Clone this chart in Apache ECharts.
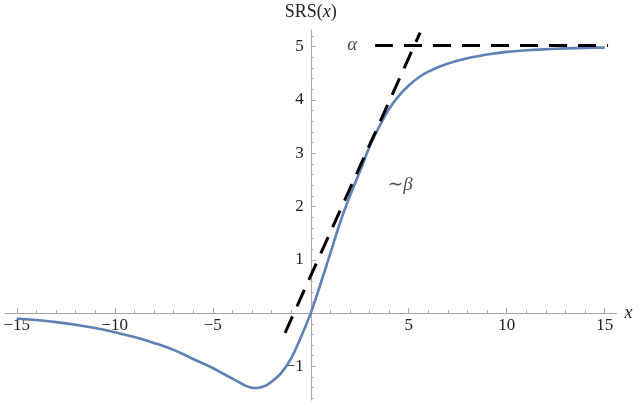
<!DOCTYPE html>
<html>
<head>
<meta charset="utf-8">
<script src="https://cdn.jsdelivr.net/npm/echarts@6/dist/echarts.min.js"></script>
<style>
  html, body { margin: 0; padding: 0; background: #fff; }
  #chart { width: 640px; height: 408px; }
</style>
</head>
<body>
<div id="chart"></div>
<script>
// curve SRS(x)
var xs = [-15, -14, -13, -12, -11, -10, -9, -8, -7, -6, -5, -4.5, -4, -3.5, -3.25, -3, -2.75, -2.5, -2.25, -2, -1.5, -1, -0.5,
          0, 0.5, 1, 1.5, 2, 2.5, 3, 3.5, 4, 4.5, 5, 5.5, 6, 7, 8, 9, 10, 11, 12, 13, 14, 15];
var ys = [-0.10, -0.13, -0.17, -0.22, -0.28, -0.36, -0.45, -0.56, -0.69, -0.86, -1.03, -1.13, -1.23, -1.33, -1.375, -1.40, -1.405, -1.385, -1.35, -1.29, -1.12, -0.85, -0.45,
          0, 0.55, 1.12, 1.7, 2.2, 2.65, 3.12, 3.5, 3.83, 4.08, 4.27, 4.42, 4.53, 4.68, 4.78, 4.85, 4.9, 4.93, 4.95, 4.965, 4.975, 4.98];

// dashed guides
var alphaLine = [[3.28, 5.02], [15.17, 5.02]];
var betaLine = [[-1.31, -0.37], [5.58, 5.26]];

// annotations
var notes = [[2.12, 5.03, 'α'], [4.56, 2.41, '∼β']];

// tick labels
var xLabels = [-15, -10, -5, 5, 10, 15];
var yLabels = [-1, 1, 2, 3, 4, 5];

var serif = '"Liberation Serif", "DejaVu Serif", serif';
var axisColor = '#a6a6a6';

var xMin = -15.6, xMax = 15.6, yMin = -1.63, yMax = 5.31;
var gLeft = 5, gWidth = 611.5, gTop = 30, gHeight = 370;
// move the axes onto the origin (labels follow the lines)
var xOff = -gHeight * (0 - yMin) / (yMax - yMin);
var yOff = -gWidth * (0 - xMin) / (xMax - xMin);

var xMajor = [-15, -10, -5, 0, 5, 10, 15];
var xMinor = [];
for (var i = -15; i <= 15; i++) if (i % 5 !== 0) xMinor.push(i);
var yMajor = [-1, 0, 1, 2, 3, 4, 5];
var yMinor = [];
for (var k = -8; k <= 26; k++) if (k % 5 !== 0) yMinor.push(k / 5);

function fmt(v) {
  return v < 0 ? '\u2212' + Math.abs(v) : String(v);
}

var curve = xs.map(function (x, i) { return [x, ys[i]]; });

var chart = echarts.init(document.getElementById('chart'));
chart.setOption({
  animation: false,
  grid: { left: gLeft, width: gWidth, top: gTop, height: gHeight, outerBoundsMode: 'none', containLabel: false },
  xAxis: [
    {
      type: 'value', min: xMin, max: xMax, position: 'bottom', offset: xOff,
      axisLine: { onZero: false, lineStyle: { color: axisColor, width: 1 } },
      axisTick: { inside: true, length: 5, customValues: xMajor, lineStyle: { color: axisColor } },
      axisLabel: { customValues: xLabels, formatter: fmt, margin: 4, color: '#222', fontSize: 17, fontFamily: serif },
      splitLine: { show: false },
      name: 'x', nameLocation: 'end', nameGap: 8,
      nameTextStyle: { fontFamily: serif, fontStyle: 'italic', fontSize: 18, color: '#222', verticalAlign: 'middle' }
    },
    {
      type: 'value', min: xMin, max: xMax, position: 'bottom', offset: xOff,
      axisLine: { show: false, onZero: false },
      axisTick: { inside: true, length: 3, customValues: xMinor, lineStyle: { color: axisColor } },
      axisLabel: { show: false },
      splitLine: { show: false }
    }
  ],
  yAxis: [
    {
      type: 'value', min: yMin, max: yMax, position: 'left', offset: yOff,
      axisLine: { onZero: false, lineStyle: { color: axisColor, width: 1 } },
      axisTick: { inside: true, length: 5, customValues: yMajor, lineStyle: { color: axisColor } },
      axisLabel: { customValues: yLabels, formatter: fmt, margin: 7, color: '#222', fontSize: 17, fontFamily: serif },
      splitLine: { show: false },
      name: '{a|SRS(}{b|x}{a|)}', nameLocation: 'end', nameGap: 9,
      nameTextStyle: {
        rich: {
          a: { fontFamily: serif, fontSize: 18, color: '#222' },
          b: { fontFamily: serif, fontSize: 18, fontStyle: 'italic', color: '#222' }
        }
      }
    },
    {
      type: 'value', min: yMin, max: yMax, position: 'left', offset: yOff,
      axisLine: { show: false, onZero: false },
      axisTick: { inside: true, length: 2.5, customValues: yMinor, lineStyle: { color: axisColor } },
      axisLabel: { show: false },
      splitLine: { show: false }
    }
  ],
  series: [
    {
      type: 'line', data: curve, symbol: 'none', smooth: 0.4,
      lineStyle: { color: '#5e81b5', width: 2.6 }, z: 3
    },
    {
      type: 'line', data: alphaLine, symbol: 'none',
      lineStyle: { color: '#000', width: 3, type: [18, 11] }, z: 4
    },
    {
      type: 'line', data: betaLine, symbol: 'none',
      lineStyle: { color: '#000', width: 3, type: [18, 11] }, z: 4
    },
    {
      type: 'scatter', data: notes, symbolSize: 0, silent: true,
      label: {
        show: true, position: 'inside', formatter: function (p) { return p.data[2]; },
        fontFamily: serif, fontStyle: 'italic', fontSize: 19, color: '#222'
      }
    }
  ]
});
</script>
</body>
</html>
